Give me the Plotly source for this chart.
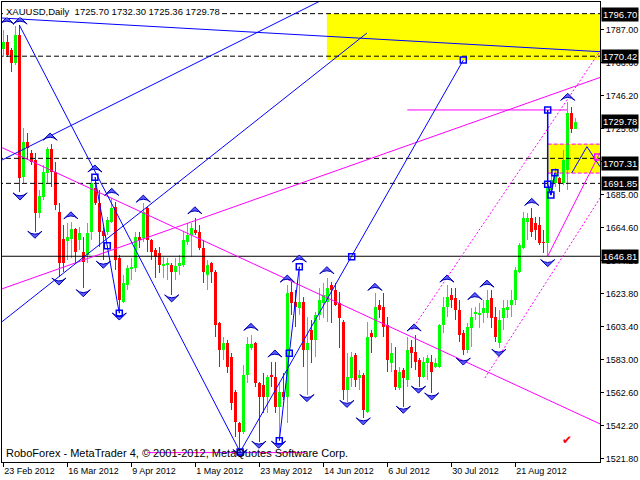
import plotly.graph_objects as go

# ---------------- candles (XAUUSD daily) ----------------
open_ = [
1774.8, 1779.2, 1774.2, 1766.2, 1783.5, 1695.8, 1717.4, 1710.6, 1706.3, 1673.5,
1683.5, 1698.2, 1713.0, 1698.9, 1674.2, 1657.5, 1656.3, 1657.5, 1663.6, 1656.9,
1649.5, 1647.6, 1661.8, 1689.0, 1679.7, 1662.4, 1661.8, 1668.0, 1677.3, 1645.8,
1618.6, 1629.0, 1638.9, 1639.5, 1658.8, 1658.1, 1676.7, 1656.9, 1650.7, 1648.8,
1640.8, 1641.4, 1641.4, 1637.1, 1640.8, 1641.4, 1655.7, 1660.0, 1663.0, 1661.8,
1651.9, 1635.2, 1642.6, 1637.1, 1605.6, 1588.9, 1593.2, 1584.6, 1563.0, 1543.8,
1538.3, 1573.4, 1590.2, 1593.2, 1568.5, 1567.3, 1559.9, 1573.4, 1572.2, 1553.7,
1563.0, 1559.9, 1624.8, 1618.6, 1614.9, 1618.6, 1588.9, 1601.3, 1595.1, 1610.5,
1617.9, 1618.6, 1629.0, 1626.0, 1617.9, 1606.2, 1564.2, 1571.6, 1585.8, 1571.6,
1573.4, 1550.6, 1599.4, 1597.0, 1616.7, 1615.5, 1604.3, 1580.9, 1576.5, 1565.5,
1576.5, 1570.4, 1590.8, 1587.7, 1582.7, 1572.2, 1580.9, 1581.5, 1578.4, 1578.4,
1604.3, 1615.5, 1622.9, 1621.1, 1613.6, 1599.4, 1588.9, 1602.5, 1611.1, 1610.5,
1611.8, 1611.8, 1621.1, 1609.3, 1593.2, 1608.7, 1613.6, 1616.7, 1619.8, 1637.1,
1651.9, 1668.0, 1670.4, 1667.3, 1666.1, 1655.7, 1655.0, 1687.7, 1692.0, 1695.1,
1692.0, 1700.1, 1735.3, 1725.70]
high = [
1786.6, 1783.5, 1775.5, 1789.0, 1789.7, 1726.0, 1723.0, 1712.4, 1710.5, 1687.7,
1703.2, 1714.3, 1716.1, 1705.1, 1679.7, 1666.1, 1667.3, 1668.0, 1664.2, 1664.9,
1658.8, 1667.3, 1695.1, 1695.8, 1687.7, 1664.9, 1671.1, 1682.8, 1680.4, 1647.6,
1635.2, 1641.4, 1645.8, 1661.8, 1661.8, 1679.7, 1677.3, 1657.5, 1651.9, 1652.6,
1646.4, 1645.8, 1642.6, 1645.8, 1647.6, 1661.8, 1667.3, 1667.3, 1670.4, 1666.1,
1656.9, 1644.5, 1643.3, 1638.3, 1606.2, 1597.0, 1595.1, 1587.0, 1564.2, 1544.4,
1579.6, 1597.0, 1598.2, 1593.9, 1569.1, 1574.7, 1573.4, 1581.5, 1581.5, 1568.5,
1574.7, 1629.0, 1630.9, 1626.0, 1640.2, 1621.7, 1609.3, 1607.4, 1612.4, 1627.2,
1630.3, 1633.4, 1630.9, 1630.3, 1624.8, 1607.4, 1587.0, 1587.7, 1587.0, 1576.5,
1574.7, 1606.2, 1601.3, 1624.1, 1619.8, 1624.1, 1609.3, 1593.2, 1590.8, 1578.4,
1577.8, 1597.0, 1595.1, 1598.2, 1584.0, 1584.6, 1585.8, 1585.8, 1584.0, 1605.0,
1621.7, 1629.0, 1627.2, 1627.2, 1619.8, 1601.3, 1605.6, 1614.9, 1615.5, 1617.9,
1619.8, 1626.0, 1626.0, 1615.5, 1613.6, 1619.8, 1619.8, 1626.0, 1640.2, 1655.0,
1674.2, 1673.5, 1676.7, 1671.1, 1671.1, 1663.0, 1691.85, 1697.0, 1701.3, 1695.8,
1712.4, 1742.1, 1739.0, 1732.30]
low = [
1769.9, 1769.9, 1760.6, 1765.0, 1686.5, 1692.0, 1706.3, 1703.2, 1661.8, 1670.4,
1681.6, 1692.0, 1689.6, 1675.4, 1634.0, 1637.1, 1644.5, 1645.8, 1642.6, 1650.7,
1627.2, 1642.6, 1656.9, 1678.5, 1652.6, 1644.5, 1660.0, 1667.3, 1638.3, 1611.8,
1617.9, 1626.0, 1632.1, 1637.1, 1651.9, 1655.7, 1649.5, 1644.5, 1633.4, 1636.5,
1633.4, 1632.1, 1622.9, 1632.1, 1635.2, 1640.2, 1653.8, 1646.4, 1660.0, 1650.7,
1630.3, 1626.0, 1630.3, 1597.0, 1578.4, 1582.7, 1574.7, 1551.8, 1535.2, 1526.5,
1537.0, 1568.5, 1588.9, 1566.1, 1532.1, 1550.0, 1550.0, 1566.1, 1550.0, 1532.7,
1558.0, 1543.8, 1610.5, 1603.1, 1610.5, 1578.4, 1561.1, 1580.9, 1584.6, 1607.4,
1608.7, 1606.2, 1605.6, 1616.0, 1590.1, 1558.0, 1556.8, 1566.1, 1566.1, 1564.2,
1546.9, 1550.0, 1587.0, 1596.4, 1608.7, 1597.0, 1575.3, 1575.3, 1564.2, 1564.2,
1553.7, 1566.1, 1577.8, 1576.5, 1566.1, 1571.6, 1570.4, 1562.4, 1577.8, 1577.8,
1599.4, 1609.3, 1614.9, 1607.4, 1593.9, 1585.8, 1587.0, 1590.8, 1607.4, 1602.5,
1605.6, 1608.7, 1602.5, 1593.9, 1590.2, 1601.3, 1608.7, 1609.3, 1616.7, 1636.5,
1651.3, 1656.9, 1658.8, 1656.9, 1653.8, 1648.8, 1646.81, 1684.6, 1689.6, 1686.5,
1690.8, 1687.7, 1723.0, 1725.36]
close = [
1779.2, 1771.1, 1766.2, 1783.5, 1695.1, 1717.4, 1713.7, 1705.1, 1673.5, 1684.1,
1698.9, 1713.0, 1698.9, 1678.5, 1642.6, 1642.6, 1658.8, 1663.6, 1649.5, 1661.2,
1643.3, 1661.2, 1692.0, 1679.7, 1661.8, 1659.4, 1669.2, 1676.7, 1644.5, 1619.8,
1630.3, 1639.5, 1640.2, 1658.8, 1656.9, 1674.2, 1656.9, 1649.5, 1646.4, 1641.4,
1642.0, 1642.6, 1637.1, 1640.8, 1642.6, 1656.9, 1660.0, 1664.3, 1661.2, 1651.9,
1637.1, 1641.4, 1637.1, 1604.3, 1588.9, 1593.2, 1578.4, 1556.2, 1544.4, 1538.3,
1573.4, 1592.6, 1592.6, 1568.5, 1559.9, 1559.9, 1572.2, 1572.2, 1553.7, 1563.0,
1559.9, 1624.1, 1617.9, 1615.5, 1618.6, 1588.9, 1593.2, 1595.1, 1610.5, 1619.8,
1622.9, 1627.2, 1626.0, 1616.7, 1608.7, 1564.2, 1572.2, 1584.6, 1570.4, 1573.4,
1551.8, 1597.0, 1597.0, 1615.5, 1613.6, 1603.1, 1582.7, 1587.0, 1566.1, 1575.3,
1571.6, 1588.9, 1587.0, 1581.5, 1572.2, 1581.5, 1584.0, 1575.3, 1580.9, 1604.3,
1615.5, 1621.7, 1619.8, 1613.6, 1598.2, 1588.9, 1603.1, 1609.3, 1612.4, 1611.8,
1614.9, 1619.8, 1608.7, 1597.0, 1607.4, 1614.9, 1615.5, 1619.8, 1638.3, 1653.8,
1670.4, 1670.4, 1661.8, 1663.0, 1655.0, 1655.0, 1689.6, 1693.9, 1698.2, 1692.0,
1706.3, 1735.3, 1725.70, 1729.78]
bar_index = list(range(len(open_)))

date_tick_index = [0, 16, 32, 48, 64, 80, 96, 112, 128]
date_tick_text = ["23 Feb 2012", "16 Mar 2012", "9 Apr 2012", "1 May 2012", "23 May 2012",
                  "14 Jun 2012", "6 Jul 2012", "30 Jul 2012", "21 Aug 2012"]
price_ticks = [1787.00, 1766.60, 1746.20, 1725.80, 1705.40, 1685.00, 1664.60,
               1644.20, 1623.80, 1603.40, 1583.00, 1562.60, 1542.20, 1521.80]

# horizontal levels
dashed_levels = [1796.70, 1770.42, 1707.31, 1691.85]
solid_level = 1646.81
label_levels = [1796.70, 1770.42, 1729.78, 1707.31, 1691.85, 1646.81]
label_shift = [-1, 0, 0, -5, 0, 0]

# fractal arrows
up_arrow_x = [0.9, 4.2, 11.7, 22.9, 27.1, 16.9, 35.0, 47.9, 61.9, 67.9, 71.0, 74.0, 80.9,
              92.9, 102.7, 110.9, 117.9, 120.9, 132.1, 141.1]
up_arrow_y = [1794.6, 1794.6, 1722.9, 1703.2, 1688.8, 1674.3, 1684.6, 1677.4, 1605.4, 1588.9,
              1635.2, 1647.6, 1640.4, 1630.1, 1605.0, 1635.2, 1624.4, 1632.1, 1682.6, 1747.5]
down_arrow_x = [4.2, 7.9, 13.9, 20.0, 25.0, 29.0, 42.1, 59.2, 63.9, 68.8, 75.9, 85.9, 90.0,
                100.0, 103.8, 107.1, 115.0, 123.9, 136.1]
down_arrow_y = [1681.6, 1657.9, 1629.0, 1621.8, 1639.4, 1607.4, 1618.6, 1523.0, 1528.2, 1528.2,
                1557.0, 1553.4, 1542.6, 1549.8, 1562.2, 1558.0, 1579.6, 1585.0, 1640.4]

# zigzag anchor squares
square_x = [22.9, 26.0, 29.0, 59.2, 87.1, 115.0, 69.0, 71.5, 74.0, 136.1, 136.1, 136.9, 137.9]
square_y = [1695.6, 1653.3, 1611.6, 1525.9, 1646.5, 1768.0, 1532.9, 1586.9, 1640.4,
            1737.2, 1691.3, 1684.6, 1698.4]
pink_square_x = [148.6]
pink_square_y = [1708.1]

# blue trend lines / zigzags
blue_top_x, blue_top_y = [-0.3, 149.2], [1794.0, 1773.2]
blue_zig_a_x, blue_zig_a_y = [4.0, 59.2, 115.0], [1789.7, 1525.9, 1768.0]
blue_zig_b_x, blue_zig_b_y = [22.9, 26.0, 29.0], [1695.6, 1653.3, 1611.6]
blue_zig_c_x, blue_zig_c_y = [69.0, 71.5, 74.0], [1532.9, 1586.9, 1640.4]
blue_rise1_x, blue_rise1_y = [-0.3, 90.9], [1606.4, 1784.7]
blue_rise2_x, blue_rise2_y = [-0.3, 80.4], [1706.3, 1806.0]
blue_proj_x, blue_proj_y = [136.1, 136.1, 136.9, 137.9], [1737.2, 1691.3, 1684.6, 1698.4]
blue_proj2_x, blue_proj2_y = [142.1, 145.9, 149.2], [1698.2, 1714.5, 1702.1]

# magenta lines
mag_down_x, mag_down_y = [-0.3, 149.2], [1713.9, 1543.2]
mag_up_x, mag_up_y = [-0.3, 149.2], [1626.7, 1757.3]
mag_steep_x, mag_steep_y = [136.1, 149.2], [1646.8, 1710.9]
mag_htop_x, mag_htop_y = [101.0, 141.0], [1737.2, 1737.2]
mag_hbot_x, mag_hbot_y = [36.0, 75.5], [1525.5, 1525.5]
mag_dot1_x, mag_dot1_y = [102.1, 149.2], [1601.3, 1773.6]
mag_dot2_x, mag_dot2_y = [120.4, 149.2], [1571.6, 1682.8]

# yellow zones
zone_top_x, zone_top_y = [80.9, 149.5], [1768.0, 1796.7]
zone_small_x, zone_small_y = [136.1, 149.5], [1698.2, 1716.1]

check_x, check_y = [141.0], [1533.3]

X_RANGE = [-0.325, 149.175]
Y_RANGE = [1519.7, 1803.9]
FONT = "Liberation Sans, Arial, sans-serif"
GREEN, RED = "#00ff00", "#ff0000"
BLUE, MAGENTA = "#0000ff", "#ff00ff"

fig = go.Figure()

# candles as bars: wicks then bodies
colors = [GREEN if c >= o else RED for o, c in zip(open_, close)]
fig.add_trace(go.Bar(x=bar_index, y=[h - l for h, l in zip(high, low)], base=low,
                     width=0.25, marker=dict(color=colors, line=dict(width=0)),
                     hoverinfo="skip", showlegend=False))
fig.add_trace(go.Bar(x=bar_index, y=[max(abs(c - o), 0.6) for o, c in zip(open_, close)],
                     base=[min(o, c) for o, c in zip(open_, close)],
                     width=0.75, marker=dict(color=colors, line=dict(width=0)),
                     hoverinfo="skip", showlegend=False))


def line(xs, ys, color, dash="solid", width=1):
    fig.add_trace(go.Scatter(x=xs, y=ys, mode="lines", line=dict(color=color, width=width, dash=dash),
                             hoverinfo="skip", showlegend=False))


# horizontal levels
for lv in dashed_levels:
    line([X_RANGE[0] - 1, X_RANGE[1] + 1], [lv, lv], "black", "5px,3px")
line([X_RANGE[0] - 1, X_RANGE[1] + 1], [solid_level, solid_level], "black")

# small zone borders
line(zone_small_x, [zone_small_y[1]] * 2, MAGENTA, "4px,2px")
line(zone_small_x, [zone_small_y[0]] * 2, MAGENTA, "4px,2px")

# magenta
line(mag_down_x, mag_down_y, MAGENTA)
line(mag_up_x, mag_up_y, MAGENTA)
line(mag_steep_x, mag_steep_y, MAGENTA)
line(mag_htop_x, mag_htop_y, MAGENTA)
line(mag_hbot_x, mag_hbot_y, MAGENTA)
line(mag_dot1_x, mag_dot1_y, MAGENTA, "2px,2px")
line(mag_dot2_x, mag_dot2_y, MAGENTA, "2px,2px")

# blue
line(blue_top_x, blue_top_y, BLUE)
line(blue_zig_a_x, blue_zig_a_y, BLUE)
line(blue_zig_b_x, blue_zig_b_y, BLUE)
line(blue_zig_c_x, blue_zig_c_y, BLUE)
line(blue_rise1_x, blue_rise1_y, BLUE)
line(blue_rise2_x, blue_rise2_y, BLUE)
line(blue_proj_x, blue_proj_y, BLUE, width=1.5)
line(blue_proj2_x, blue_proj2_y, BLUE)

# markers
fig.add_trace(go.Scatter(x=up_arrow_x, y=up_arrow_y, mode="markers", cliponaxis=True,
                         marker=dict(symbol="arrow-wide", size=10, angle=0, color="#5a5aff",
                                     line=dict(color="#0000b0", width=1)),
                         hoverinfo="skip", showlegend=False))
fig.add_trace(go.Scatter(x=down_arrow_x, y=down_arrow_y, mode="markers", cliponaxis=True,
                         marker=dict(symbol="arrow-wide", size=10, angle=180, color="#5a5aff",
                                     line=dict(color="#0000b0", width=1)),
                         hoverinfo="skip", showlegend=False))
fig.add_trace(go.Scatter(x=square_x, y=square_y, mode="markers",
                         marker=dict(symbol="square-open", size=6, color=BLUE, line=dict(width=1.5)),
                         hoverinfo="skip", showlegend=False))
fig.add_trace(go.Scatter(x=pink_square_x, y=pink_square_y, mode="markers",
                         marker=dict(symbol="square-open", size=6, color=MAGENTA, line=dict(width=1.5)),
                         hoverinfo="skip", showlegend=False))

shapes = [
    dict(type="rect", xref="x", yref="y", x0=zone_top_x[0], x1=zone_top_x[1],
         y0=zone_top_y[0], y1=zone_top_y[1], fillcolor="#ffff00", line=dict(width=0), layer="below"),
    dict(type="rect", xref="x", yref="y", x0=zone_small_x[0], x1=zone_small_x[1],
         y0=zone_small_y[0], y1=zone_small_y[1], fillcolor="#ffff00", line=dict(width=0), layer="below"),
]

annotations = [
    dict(xref="paper", yref="paper", x=0, y=1, xanchor="left", yanchor="top", xshift=3, yshift=-3,
         text="XAUUSD,Daily\u00a0\u00a01725.70 1732.30 1725.36 1729.78", showarrow=False,
         font=dict(family=FONT, size=9.5, color="black"), bgcolor="white", borderpad=0),
    dict(xref="paper", yref="paper", x=0, y=0, xanchor="left", yanchor="bottom", xshift=2, yshift=1,
         text="RoboForex - MetaTrader 4, \u00a9 2001-2012, MetaQuotes Software Corp.", showarrow=False,
         font=dict(family=FONT, size=11, color="black")),
    dict(xref="x", yref="y", x=check_x[0], y=check_y[0], text="\u2714", showarrow=False,
         font=dict(family="DejaVu Sans", size=12, color="#ff0000")),
]
for lv, sh in zip(label_levels, label_shift):
    annotations.append(dict(xref="paper", yref="y", x=1, y=lv, xanchor="left", yanchor="middle",
                            xshift=1, yshift=sh, text=f"{lv:.2f}", showarrow=False,
                            bgcolor="black", borderpad=1,
                            font=dict(family=FONT, size=9.5, color="white")))

fig.update_layout(
    width=640, height=480,
    margin=dict(l=2, r=40, t=2, b=18),
    paper_bgcolor="white", plot_bgcolor="white",
    barmode="overlay", bargap=0,
    showlegend=False, hovermode=False,
    shapes=shapes, annotations=annotations,
    font=dict(family=FONT, size=9, color="black"),
    xaxis=dict(range=X_RANGE, showgrid=False, zeroline=False,
               tickmode="array", tickvals=date_tick_index, ticktext=date_tick_text,
               ticks="outside", ticklen=4, tickcolor="black",
               showline=True, linecolor="black", linewidth=1, mirror=True,
               ticklabelposition="outside right", tickfont=dict(family=FONT, size=9, color="black")),
    yaxis=dict(range=Y_RANGE, side="right", showgrid=False, zeroline=False,
               tickmode="array", tickvals=price_ticks, ticktext=[f"{p:.2f}" for p in price_ticks],
               ticks="outside", ticklen=3, tickcolor="black",
               showline=True, linecolor="black", linewidth=1, mirror=True,
               tickfont=dict(family=FONT, size=9, color="black")),
)

fig.write_html("out.html", config={"displayModeBar": False, "staticPlot": True},
               post_script="document.body.style.margin='0px';document.body.style.overflow='hidden';")
